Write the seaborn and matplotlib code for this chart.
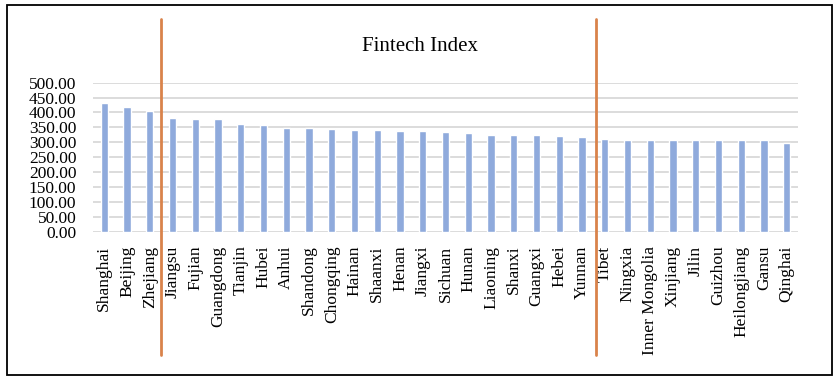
import matplotlib
matplotlib.use("Agg")
import matplotlib.pyplot as plt
import matplotlib.transforms as mtransforms
from matplotlib.patches import Rectangle
import seaborn as sns
import pandas as pd

provinces = ["Shanghai", "Beijing", "Zhejiang", "Jiangsu", "Fujian", "Guangdong",
             "Tianjin", "Hubei", "Anhui", "Shandong", "Chongqing", "Hainan",
             "Shaanxi", "Henan", "Jiangxi", "Sichuan", "Hunan", "Liaoning",
             "Shanxi", "Guangxi", "Hebei", "Yunnan", "Tibet", "Ningxia",
             "Inner Mongolia", "Xinjiang", "Jilin", "Guizhou", "Heilongjiang",
             "Gansu", "Qinghai"]
index_values = [431, 417, 406, 380, 379, 378, 361, 358, 349, 347, 344, 341,
                340, 339, 339, 333, 330, 324, 324, 323, 321, 317, 310, 308,
                308, 307, 307, 306, 306, 306, 298]
separators = [2.5, 21.6]
yticks = [0, 50, 100, 150, 200, 250, 300, 350, 400, 450, 500]

sns.set_theme(style="white")
plt.rcParams['font.family'] = ['Liberation Serif', 'DejaVu Serif']
plt.rcParams['text.color'] = 'black'
plt.rcParams['xtick.color'] = 'black'
plt.rcParams['ytick.color'] = 'black'

df = pd.DataFrame({"province": provinces, "value": index_values})

fig = plt.figure(figsize=(8.4, 3.81), dpi=100)
ax = fig.add_axes([0.1107, 0.3919, 0.8393, 0.3911])

sns.barplot(data=df, x="province", y="value", color="#8FAADC", saturation=1,
            width=0.32, ax=ax, zorder=3)

ax.set_ylim(0, 500)
ax.set_xlim(-0.5, len(provinces) - 0.5)
ax.set_yticks(yticks)
ax.set_yticklabels([f"{v:.2f}" for v in yticks], fontsize=12.5, color='black')
ax.tick_params(axis='y', length=0, pad=12, labelcolor='black')
ax.tick_params(axis='x', length=0, pad=10, labelcolor='black')
plt.setp(ax.get_xticklabels(), rotation=90, fontsize=12.5, ha='center', va='top')
ax.yaxis.grid(True, color="#D9D9D9", linewidth=1.3, zorder=0)
ax.set_axisbelow(True)
for s in ax.spines.values():
    s.set_visible(False)
ax.set_xlabel("")
ax.set_ylabel("")

fig.text(0.5, 1 - 46.5 / 381, "Fintech Index", ha='center', va='center',
         fontsize=15, color='black')

trans = mtransforms.blended_transform_factory(ax.transData, fig.transFigure)
for xs in separators:
    ax.plot([xs, xs], [1 - 19 / 381, 1 - 355 / 381], color="#D9834B", lw=2,
            transform=trans, clip_on=False, zorder=5)

fig.patches.append(Rectangle((7 / 840, 1 - 375 / 381), (832 - 7) / 840, (375 - 5) / 381,
                             transform=fig.transFigure, fill=False,
                             edgecolor="black", linewidth=1.3))

fig.savefig("out.png", dpi=100)
